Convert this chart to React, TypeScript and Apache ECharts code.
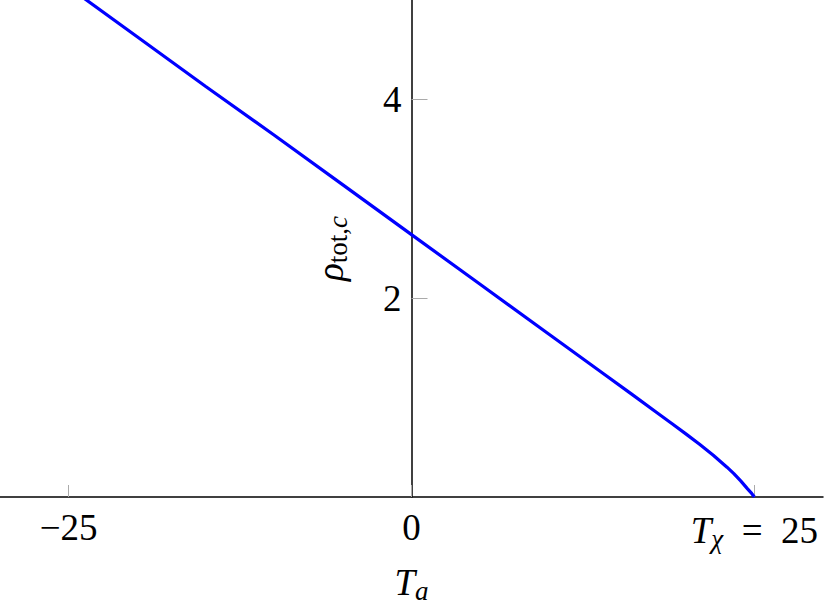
import React, { useEffect, useRef } from "react";
import * as echarts from "echarts";

const tValues = [-25, -20, -15, -10, -5, 0, 5, 10, 14, 16, 18, 19, 20, 21, 22, 23, 23.5, 24, 24.5, 24.8, 25];
const rhoValues = [5.13, 4.63, 4.13, 3.64, 3.14, 2.64, 2.14, 1.64, 1.24, 1.04, 0.838, 0.737, 0.635, 0.53, 0.42, 0.3, 0.235, 0.162, 0.082, 0.036, 0];
const xTicks = [-25, 0, 25];
const yTicks = [2, 4];

const FONT = "'Liberation Serif', 'DejaVu Serif', serif";
const FS = 37;
const SFS = 27;

export default function App() {
  const ref = useRef<HTMLDivElement>(null);
  useEffect(() => {
    const chart = echarts.init(ref.current!, null, { renderer: "svg" });
    const data = tValues.map((t, i) => [t, rhoValues[i]]);
    chart.setOption({
      animation: false,
      backgroundColor: "#ffffff",
      grid: { left: 0, right: 7, top: 0, bottom: 117, containLabel: false, outerBoundsMode: "none" },
      xAxis: {
        type: "value",
        min: -30,
        max: 30,
        splitLine: { show: false },
        axisLine: { show: true, onZero: false, lineStyle: { color: "#000", width: 1.5 } },
        axisTick: { show: true, inside: true, length: 12, customValues: xTicks, lineStyle: { color: "#aaa", width: 1 } },
        axisLabel: {
          customValues: xTicks,
          margin: 12,
          fontFamily: FONT,
          fontSize: FS,
          color: "#000",
          formatter: (v: number) => (v === 25 ? "{i|T}{sub|χ}{n|  =  25}" : v < 0 ? "−" + Math.abs(v) : String(v)),
          rich: {
            i: { fontFamily: FONT, fontStyle: "italic", fontSize: FS, color: "#000" },
            sub: { fontFamily: FONT, fontStyle: "italic", fontSize: SFS, color: "#000", padding: [16, 0, 0, 0] },
            n: { fontFamily: FONT, fontSize: FS, color: "#000" },
          },
        },
        name: "{i|T}{sub|a}",
        nameLocation: "middle",
        nameGap: 64,
        nameTextStyle: {
          rich: {
            i: { fontFamily: FONT, fontStyle: "italic", fontSize: FS, color: "#000" },
            sub: { fontFamily: FONT, fontStyle: "italic", fontSize: SFS, color: "#000", padding: [16, 0, 0, 0] },
          },
        },
      },
      yAxis: {
        type: "value",
        min: 0,
        max: 5,
        offset: -411.5,
        splitLine: { show: false },
        axisLine: { show: true, onZero: false, lineStyle: { color: "#000", width: 1.5 } },
        axisTick: { show: true, inside: true, length: 16, customValues: yTicks, lineStyle: { color: "#aaa", width: 1 } },
        axisLabel: {
          customValues: yTicks,
          margin: 10,
          fontFamily: FONT,
          fontSize: FS,
          color: "#000",
        },
        name: "{i|ρ}{sub|tot,}{subi|c}",
        nameLocation: "middle",
        nameGap: 60,
        nameRotate: 90,
        nameTextStyle: {
          rich: {
            i: { fontFamily: FONT, fontStyle: "italic", fontSize: FS, color: "#000" },
            sub: { fontFamily: FONT, fontSize: SFS, color: "#000", padding: [16, 0, 0, 0] },
            subi: { fontFamily: FONT, fontStyle: "italic", fontSize: SFS, color: "#000", padding: [16, 0, 0, 0] },
          },
        },
      },
      series: [
        {
          type: "line",
          data,
          showSymbol: false,
          smooth: false,
          clip: true,
          lineStyle: { color: "#0000ff", width: 3.2 },
        },
      ],
    });
    return () => chart.dispose();
  }, []);
  return (
    <div
      ref={ref}
      style={{ position: "absolute", left: 0, top: 0, width: 830, height: 614 }}
    />
  );
}
